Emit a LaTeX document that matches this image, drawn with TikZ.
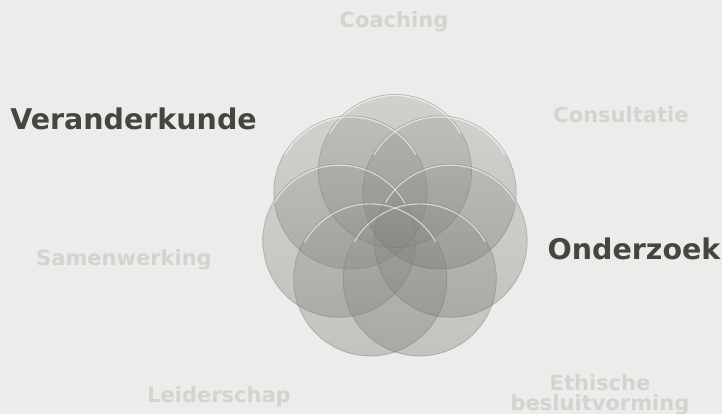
\documentclass[tikz,border=0pt]{standalone}
\usepackage{fontspec}
\setmainfont{DejaVu Sans}
\usetikzlibrary{calc}
\definecolor{bg}{HTML}{ECEDEA}
\definecolor{lighttxt}{HTML}{D3D4D0}
\definecolor{darktxt}{HTML}{45463F}
\definecolor{disctop}{HTML}{9E9E9A}
\definecolor{discbot}{HTML}{767672}
\begin{document}
\begin{tikzpicture}[x=1pt,y=1pt,
  lightlabel/.style={text=lighttxt, font=\bfseries\fontsize{21}{20}\selectfont, inner sep=0pt, anchor=base, align=center},
  darklabel/.style={text=darktxt, font=\bfseries\fontsize{28.5}{30}\selectfont, inner sep=0pt, anchor=base},
  disc/.style={top color=disctop, bottom color=discbot, fill opacity=0.35},
  discrim/.style={draw=black!55, draw opacity=0.3, line width=0.7pt},
  discshine/.style={draw=white, draw opacity=0.6, line width=1.2pt, line cap=round}]
\fill[bg] (0,0) rectangle (722,414);
\useasboundingbox (0,0) rectangle (722,414);
\coordinate (mid) at (395,186);
\foreach \a [count=\i] in {90,141.43,192.86,244.29,295.71,347.14,38.57}{
  \coordinate (c\i) at ($(mid)+(\a:57)$);
  \shade[disc] (c\i) circle (77pt);
}
\foreach \i in {1,...,7}{
  \draw[discrim] (c\i) circle (76.5pt);
  \draw[discshine] ($(c\i)+(30:75.5)$) arc[start angle=30, end angle=150, radius=75.5pt];
}
\node[lightlabel] (coaching) at (394,414-27.3) {Coaching};
\node[lightlabel] (consultatie) at (621,414-122.5) {Consultatie};
\node[lightlabel] (samenwerking) at (124,414-265.5) {Samenwerking};
\node[lightlabel] (leiderschap) at (219,414-403) {Leiderschap};
\node[lightlabel, anchor=north] (ethisch) at (600,414-374) {Ethische\\besluitvorming};
\node[darklabel] (veranderkunde) at (133.5,414-129.5) {Veranderkunde};
\node[darklabel] (onderzoek) at (634,414-260) {Onderzoek};
\end{tikzpicture}
\end{document}
